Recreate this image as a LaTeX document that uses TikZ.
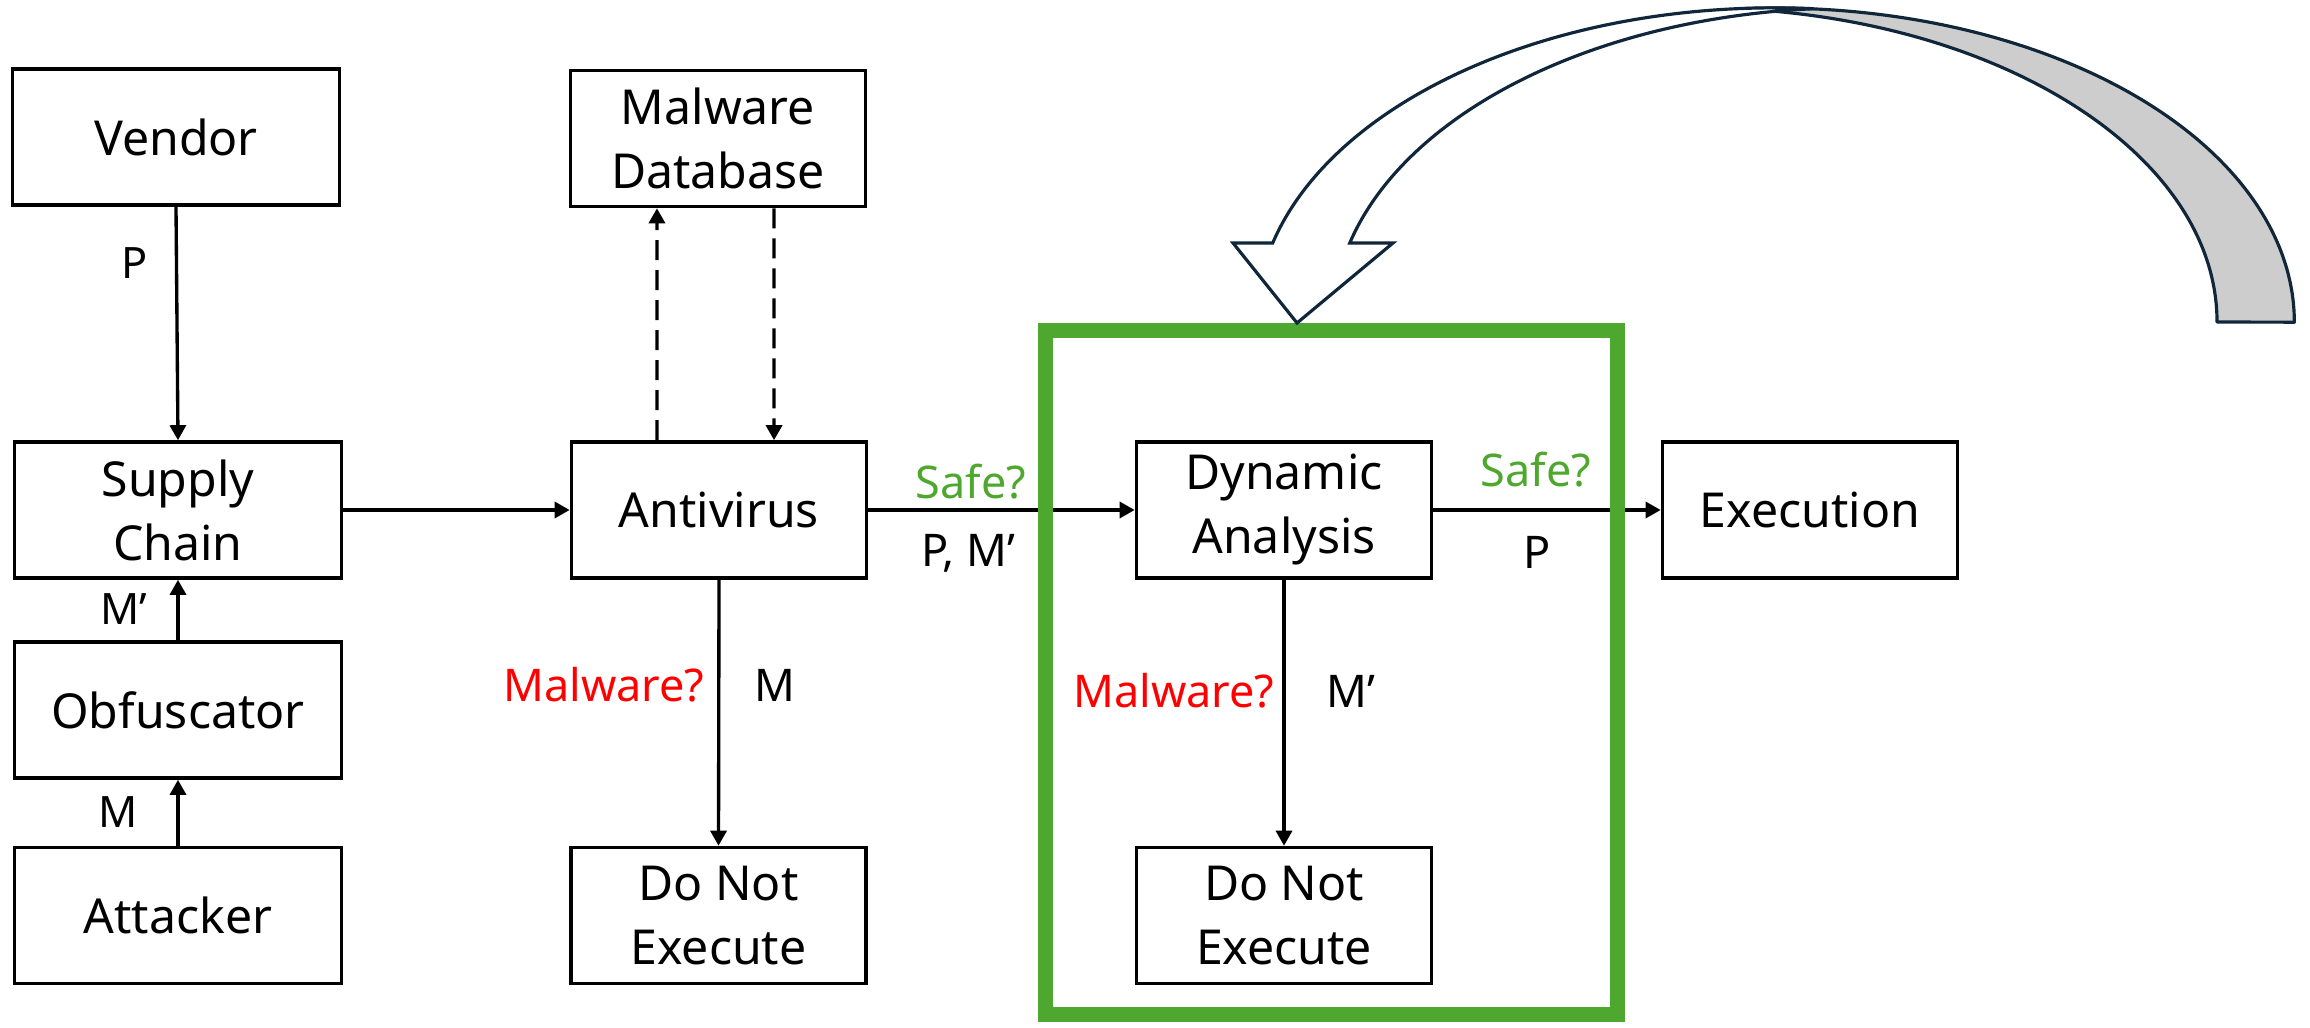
\documentclass[tikz,border=0pt]{standalone}
\usepackage{fontspec}
\setmainfont{Noto Sans}
\usetikzlibrary{arrows.meta,calc}

\definecolor{okgreen}{HTML}{4EA72E}
\definecolor{alertred}{HTML}{FF0000}
\definecolor{navyline}{HTML}{10263A}
\definecolor{backshade}{HTML}{CDCDCD}

\newcommand\bxfont{\fontsize{13.7pt}{18.2pt}\selectfont}
\newcommand\lbfont{\fontsize{12.8pt}{15pt}\selectfont}
\newcommand\smlbfont{\fontsize{12.3pt}{14.5pt}\selectfont}

\begin{document}
\begin{tikzpicture}[x=0.01cm, y=-0.01cm,
  box/.style={draw, line width=1pt, minimum width=2.95cm, minimum height=1.36cm,
    inner sep=0pt, align=center, font=\bxfont},
  widebox/.style={box, minimum width=3.27cm},
  arr/.style={line width=0.95pt, -{Triangle[length=0.15cm, width=0.16cm]}},
  dasharr/.style={arr, dash pattern=on 0.2cm off 0.1cm},
  lbl/.style={inner sep=0pt, font=\lbfont},
  smlbl/.style={inner sep=0pt, font=\smlbfont}]

\useasboundingbox (0,0) rectangle (2310,1028);

% process boxes
\node[widebox] (vendor) at (176,137)   {Vendor};
\node[box]     (db)     at (718,138.5) {Malware\\Database};
\node[widebox] (supply) at (178,510)   {Supply\\Chain};
\node[box]     (av)     at (719,510)   {Antivirus};
\node[box]     (dyn)    at (1284,510)  {Dynamic\\Analysis};
\node[box]     (exec)   at (1810,510)  {Execution};
\node[widebox] (obf)    at (178,710)   {Obfuscator};
\node[widebox] (att)    at (178,915.5) {Attacker};
\node[box]     (dne1)   at (718.5,915.5) {Do Not\\Execute};
\node[box]     (dne2)   at (1284,915.5)  {Do Not\\Execute};

% flow connectors
\draw[arr] (vendor.south) -- (supply.north);
\draw[arr] (obf.north) -- (supply.south);
\draw[arr] (att.north) -- (obf.south);
\draw[arr] (supply.east) -- (av.west);
\draw[dasharr] ([xshift=-0.62cm]av.north) -- ([xshift=-0.61cm]db.south);
\draw[dasharr] ([xshift=0.56cm]db.south) -- ([xshift=0.55cm]av.north);
\draw[arr] (av.south) -- (dne1.north);
\draw[arr] (av.east) -- (dyn.west);
\draw[arr] (dyn.south) -- (dne2.north);
\draw[arr] (dyn.east) -- (exec.west);

% connector labels
\node[smlbl, anchor=base] (lp)   at (135,279) {P};
\node[smlbl, anchor=base] (lmq)  at (124,624) {M’};
\node[smlbl, anchor=base] (lm)   at (118,827) {M};
\node[lbl, anchor=base east, text=okgreen] (lsafea) at (1027,499) {Safe?};
\node[lbl, anchor=base] (lpm) at (968,567) {P, M’};
\node[lbl, anchor=base east, text=alertred] (lmala) at (705,701) {Malware?};
\node[lbl, anchor=base] (lma) at (774.5,701) {M};
\node[lbl, anchor=base east, text=alertred] (lmalb) at (1275,707) {Malware?};
\node[lbl, anchor=base] (lmb) at (1351,707) {M’};
\node[lbl, anchor=base east, text=okgreen] (lsafeb) at (1592,487) {Safe?};
\node[lbl, anchor=base] (lpb) at (1537,568) {P};

% highlighted dynamic-analysis stage
\draw[okgreen, line width=0.15cm] (1045,331) rectangle (1617,1014);

% curved feedback arrow: back (shaded) band first, then the front band
\filldraw[fill=backshade, draw=navyline, line width=0.9pt, line join=round]
  (1736.5,8.9) arc[start angle=94.255, end angle=0, x radius=5.19cm, y radius=3.14cm]
  -- (2217,322)
  arc[start angle=0, end angle=85.745, x radius=5.19cm, y radius=3.14cm] -- cycle;
\filldraw[fill=white, draw=navyline, line width=0.9pt, line join=miter]
  (1272.7,243) arc[start angle=165.43, end angle=85.745, x radius=5.19cm, y radius=3.14cm]
  arc[start angle=94.255, end angle=165.43, x radius=5.19cm, y radius=3.14cm]
  -- (1393,243) -- (1297,323) -- (1233,243) -- cycle;

\end{tikzpicture}
\end{document}
